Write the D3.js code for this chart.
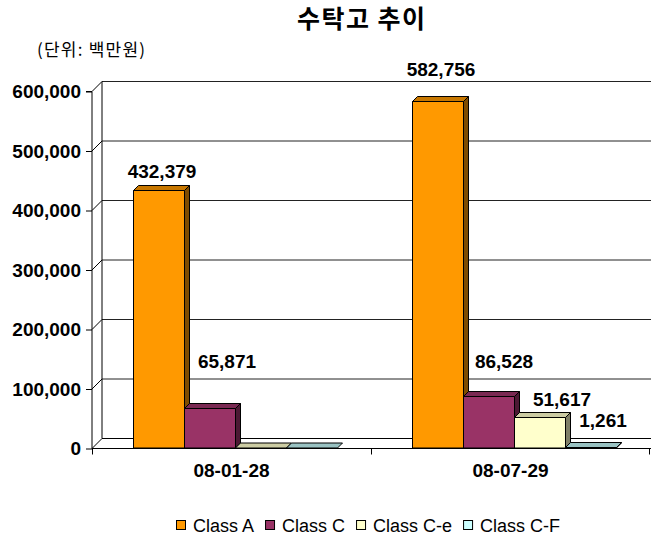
<!DOCTYPE html>
<html>
<head>
<meta charset="utf-8">
<script src="https://cdn.jsdelivr.net/npm/d3@7"></script>
<style>
  body { margin: 0; background: #fff; }
  svg { display: block; font-family: "Liberation Sans", Arial, sans-serif; }
  .kr { font-family: "Noto Sans CJK KR", "Liberation Sans", sans-serif; }
</style>
</head>
<body>
<div id="chart"></div>
<script>
// chart values
let categories = ['08-01-28', '08-07-29'];
let seriesNames = ['Class A', 'Class C', 'Class C-e', 'Class C-F'];
let classA = [432379, 582756];
let classC = [65871, 86528];
let classCe = [0, 51617];
let classCF = [0, 1261];
let yTicks = [0, 100000, 200000, 300000, 400000, 500000, 600000];

let W = 651, H = 536;
let D = 10;   // depth of the walls
let BD = 5;   // depth of a bar

let fronts = ['#FF9900', '#993366', '#FFFFCC', '#CCFFFF'];
let tops = ['#C77700', '#7A2952', '#CCCCA3', '#99C2C2'];
let sides = ['#7F4C00', '#4C1933', '#7F7F66', '#668080'];

// label nudges [dx, dy] per series / category, relative to bar front top
let labelNudge = [
  [[3, -13], [3, -26]],
  [[17, -41], [15, -29]],
  [null, [22, -12]],
  [null, [12, -21]]
];

let values = [classA, classC, classCe, classCF];

let svg = d3.select('#chart').append('svg').attr('width', W).attr('height', H);

let y = d3.scaleLinear().domain([0, 600000]).range([448.5, 91.5]);
let x0 = d3.scaleBand().domain(categories).range([92, 650]);
let x1 = d3.scaleBand().domain(seriesNames).range([41, 245]);

// title and unit note
svg.append('text').attr('class', 'kr').attr('x', 361).attr('y', 28)
    .attr('text-anchor', 'middle').attr('font-size', 25).attr('font-weight', 'bold')
    .attr('textLength', 128).attr('lengthAdjust', 'spacing')
    .text('수탁고 추이');
svg.append('text').attr('class', 'kr').attr('x', 37).attr('y', 56)
    .attr('font-size', 17).attr('textLength', 108).attr('lengthAdjust', 'spacing')
    .text('(단위: 백만원)');

let left = 92, right = 651;
let g = svg.append('g').attr('fill', 'none').attr('stroke', '#000').attr('stroke-width', 1);

// back wall gridlines and side wall lines
yTicks.forEach(t => {
  let yy = y(t);
  g.append('line').attr('x1', left + D).attr('x2', right).attr('y1', yy - D).attr('y2', yy - D)
      .attr('stroke', t === 0 ? '#000' : '#222');
  g.append('line').attr('x1', left).attr('y1', yy).attr('x2', left + D).attr('y2', yy - D);
});
// back wall left edge
g.append('line').attr('x1', left + D).attr('x2', left + D).attr('y1', y(600000) - D).attr('y2', y(0) - D);
// floor front edge
g.append('line').attr('x1', left).attr('x2', right).attr('y1', y(0)).attr('y2', y(0));

// y axis
svg.append('g').attr('transform', `translate(${left},0)`)
    .call(d3.axisLeft(y).tickValues(yTicks).tickSize(6).tickPadding(5).tickFormat(d3.format(',')))
    .call(a => a.selectAll('text').attr('font-size', 19).attr('font-weight', 'bold')
        .attr('font-family', '"Liberation Sans", Arial, sans-serif').attr('fill', '#000'))
    .call(a => a.selectAll('line,path').attr('stroke', '#000'))
    .call(a => a.select('.domain').attr('d', `M-6,${y(600000)}H0V${y(0)}`));

// x axis boundary ticks
let bounds = categories.map(c => x0(c)).concat([x0(categories[1]) + x0.bandwidth() - 1]);
g.selectAll('.xtick').data(bounds).enter().append('line')
    .attr('x1', d => d + 0.5).attr('x2', d => d + 0.5).attr('y1', y(0)).attr('y2', y(0) + 6);

// x axis labels
svg.append('g').attr('transform', `translate(0,${y(0)})`)
    .call(d3.axisBottom(x0).tickSize(0).tickPadding(15))
    .call(a => a.select('.domain').remove())
    .call(a => a.selectAll('text').attr('font-size', 19).attr('font-weight', 'bold')
        .attr('font-family', '"Liberation Sans", Arial, sans-serif').attr('fill', '#000'));

// 3D bars
let bars = svg.append('g').attr('stroke', '#000').attr('stroke-width', 1).attr('stroke-linejoin', 'round');
categories.forEach((c, ci) => {
  seriesNames.forEach((s, si) => {
    let v = values[si][ci];
    let xl = Math.round(x0(c) + x1(s)) + 0.5;
    let w = Math.round(x1.bandwidth());
    let yb = y(0) - 0.5;
    let yt = Math.round(y(v)) - 0.5;
    if (yt > yb) yt = yb;
    // front
    if (yb - yt > 0) {
      bars.append('rect').attr('x', xl).attr('y', yt).attr('width', w).attr('height', yb - yt)
          .attr('fill', fronts[si]);
    }
    // top
    bars.append('path').attr('fill', tops[si])
        .attr('d', `M${xl},${yt}L${xl + BD},${yt - BD}H${xl + w + BD}L${xl + w},${yt}Z`);
    // side
    if (yb - yt > 0) {
      bars.append('path').attr('fill', sides[si])
          .attr('d', `M${xl + w},${yt}L${xl + w + BD},${yt - BD}V${yb - BD}L${xl + w},${yb}Z`);
    }
    // data label
    let nudge = labelNudge[si][ci];
    if (v > 0 && nudge) {
      svg.append('text').attr('x', xl + w / 2 + nudge[0]).attr('y', yt + nudge[1])
          .attr('text-anchor', 'middle').attr('font-size', 19).attr('font-weight', 'bold')
          .text(d3.format(',')(v));
    }
  });
});

// legend
let legend = svg.append('g');
let lx = 0;
seriesNames.forEach((s, i) => {
  let it = legend.append('g');
  it.append('rect').attr('x', 0.5).attr('y', -5.5).attr('width', 9).attr('height', 9)
      .attr('fill', fronts[i]).attr('stroke', '#000');
  let t = it.append('text').attr('x', 17).attr('y', 6).attr('font-size', 18).text(s);
  let wdt = 17 + t.node().getComputedTextLength();
  it.attr('transform', `translate(${lx},0)`);
  lx += wdt + 11;
});
lx -= 11;
legend.attr('transform', `translate(${Math.round(368 - lx / 2)},526)`);
</script>
</body>
</html>
